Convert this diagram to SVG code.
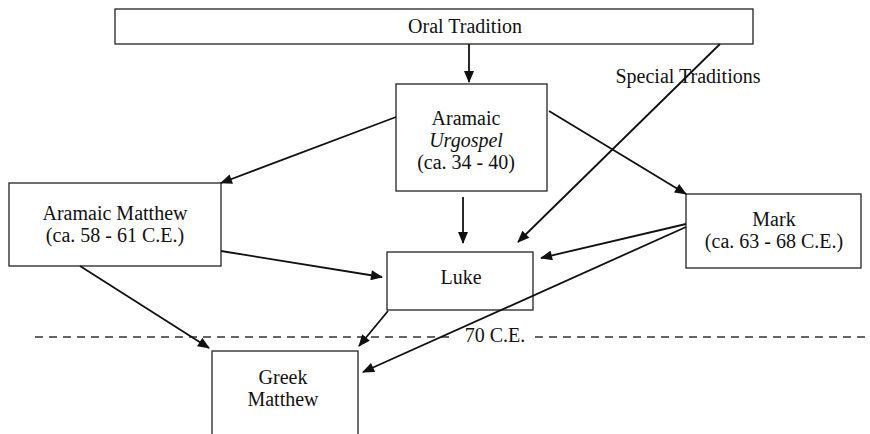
<svg xmlns="http://www.w3.org/2000/svg" width="870" height="434" viewBox="0 0 870 434">
<style>
.box{fill:#fff;stroke:#222;stroke-width:1.3}
text{font-family:'Liberation Serif','Times New Roman',serif;font-size:20px;fill:#111;text-anchor:middle}
.c{stroke:#111;stroke-width:1.8;fill:none;marker-end:url(#ah)}
</style>
<defs>
<marker id="ah" viewBox="0 0 12 10" refX="11" refY="5" markerWidth="13" markerHeight="10" markerUnits="userSpaceOnUse" orient="auto">
<path d="M0,0 L12,5 L0,10 z" fill="#111"/>
</marker>
</defs>
<rect width="870" height="434" fill="#fff"/>
<g id="timeline">
<line x1="35" y1="337" x2="455" y2="337" stroke="#333" stroke-width="1.3" stroke-dasharray="8,6"/>
<line x1="535" y1="337" x2="870" y2="337" stroke="#333" stroke-width="1.3" stroke-dasharray="8,6"/>
<text x="495" y="342">70 C.E.</text>
</g>
<g id="oral">
<rect class="box" x="115" y="9" width="638" height="35"/>
<text x="465" y="33">Oral Tradition</text>
</g>
<g id="urgospel">
<rect class="box" x="396" y="84" width="151" height="107"/>
<text x="466" y="125">Aramaic</text>
<text x="466" y="147" font-style="italic">Urgospel</text>
<text x="466" y="169">(ca. 34 - 40)</text>
</g>
<g id="aramaic-matthew">
<rect class="box" x="9" y="183" width="212" height="83"/>
<text x="115" y="220">Aramaic Matthew</text>
<text x="115" y="242">(ca. 58 - 61 C.E.)</text>
</g>
<g id="mark">
<rect class="box" x="686" y="194" width="175" height="74"/>
<text x="774" y="226">Mark</text>
<text x="774" y="248">(ca. 63 - 68 C.E.)</text>
</g>
<g id="luke">
<rect class="box" x="387" y="252" width="146" height="58"/>
<text x="461" y="284">Luke</text>
</g>
<g id="greek-matthew">
<rect class="box" x="212" y="351" width="146" height="100"/>
<text x="283" y="384">Greek</text>
<text x="283" y="406">Matthew</text>
</g>
<g id="special-label">
<text x="688" y="83">Special Traditions</text>
</g>
<g id="connectors">
<line class="c" x1="469" y1="44" x2="469" y2="82"/>
<line class="c" x1="396" y1="117" x2="221" y2="183"/>
<line class="c" x1="549" y1="111" x2="686" y2="194"/>
<line class="c" x1="463" y1="197" x2="463" y2="243"/>
<line class="c" x1="720" y1="44" x2="518" y2="242"/>
<line class="c" x1="686" y1="224" x2="541" y2="258"/>
<line class="c" x1="686" y1="227" x2="363" y2="372"/>
<line class="c" x1="221" y1="251" x2="382" y2="277"/>
<line class="c" x1="80" y1="266" x2="209" y2="348"/>
<line class="c" x1="388" y1="311" x2="359" y2="346"/>
</g>
</svg>
